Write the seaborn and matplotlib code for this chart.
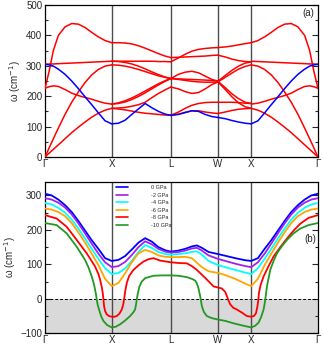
import matplotlib
matplotlib.use("Agg")
import matplotlib.pyplot as plt
import pandas as pd
import seaborn as sns
from matplotlib.ticker import MultipleLocator

sns.set_style("white")
plt.rcParams["font.family"] = ["Liberation Sans", "DejaVu Sans"]

# high symmetry points along the path
sym_labels = ["Γ", "X", "L", "W", "X", "Γ"]
sym_pos = [0.0, 1.0, 1.885, 2.59, 3.09, 4.09]

# ---- panel (a): dispersion at 0 GPa, one block per path segment ----
gx_k = [0, 0.06, 0.125, 0.2, 0.3, 0.4, 0.5, 0.6, 0.7, 0.8, 0.9, 1.0]
gx_red = [
    [226, 280, 350, 400, 428, 439, 437, 426, 410, 395, 383, 376],
    [305, 306, 306, 307, 308, 309, 310, 311, 312, 313, 314, 315],
    [226, 231, 234, 232, 222, 210, 202, 196, 190, 183, 177, 174],
    [0, 29, 60, 95, 140, 180, 214, 245, 270, 288, 299, 303],
    [0, 12, 25, 40, 60, 80, 98, 115, 131, 144, 154, 160],
]
gx_blue = [305, 303, 299, 289, 272, 250, 225, 198, 172, 145, 119, 109]

xl_k = [1.0, 1.1, 1.2, 1.3, 1.4, 1.5, 1.6, 1.7, 1.8, 1.885]
xl_red = [
    [376, 376, 375, 372, 366, 358, 349, 340, 332, 327],
    [315, 315, 315, 315, 315, 315, 315, 314, 314, 313],
    [315, 314, 311, 306, 299, 290, 280, 271, 263, 258],
    [303, 302, 299, 294, 288, 281, 274, 267, 262, 258],
    [174, 176, 181, 189, 199, 211, 224, 237, 249, 258],
    [174, 178, 185, 194, 205, 217, 229, 241, 251, 258],
    [160, 161, 163, 167, 172, 180, 195, 209, 221, 230],
    [160, 158, 155, 151, 147, 144, 142, 140, 138, 137],
]
xl_blue = [109, 111, 121, 140, 158, 176, 162, 150, 141, 137]

lw_k = [1.885, 2.0, 2.1, 2.2, 2.3, 2.4, 2.5, 2.59]
lw_red = [
    [313, 326, 338, 348, 354, 357, 359, 360],
    [327, 328, 329, 330, 331, 332, 334, 335],
    [258, 272, 279, 282, 277, 266, 255, 249],
    [258, 257, 256, 255, 254, 253, 252, 251],
    [258, 255, 252, 249, 247, 246, 246, 247],
    [230, 224, 215, 209, 212, 224, 238, 247],
    [137, 148, 160, 170, 176, 179, 180, 180],
    [137, 141, 147, 152, 152, 148, 145, 143],
]
lw_blue = [137, 140, 146, 152, 150, 140, 133, 130]

wx_k = [2.59, 2.7, 2.8, 2.9, 3.0, 3.09]
wx_red = [
    [360, 362, 365, 369, 373, 376],
    [335, 329, 322, 317, 314, 313],
    [249, 268, 285, 299, 309, 313],
    [247, 262, 276, 289, 298, 303],
    [249, 228, 208, 192, 180, 176],
    [247, 222, 198, 178, 165, 160],
    [180, 180, 180, 179, 177, 176],
    [143, 148, 153, 157, 159, 160],
]
wx_blue = [130, 126, 120, 115, 111, 109]

xg_k = [3.09, 3.19, 3.29, 3.39, 3.49, 3.59, 3.69, 3.79, 3.89, 3.965, 4.03, 4.09]
xg_red = [
    [376, 383, 395, 410, 426, 437, 439, 428, 400, 350, 280, 226],
    [315, 314, 313, 312, 311, 310, 309, 308, 307, 306, 306, 305],
    [174, 177, 183, 190, 196, 202, 210, 222, 232, 234, 231, 226],
    [303, 299, 288, 270, 245, 214, 180, 140, 95, 60, 29, 0],
    [160, 154, 144, 131, 115, 98, 80, 60, 40, 25, 12, 0],
]
xg_blue = [109, 119, 145, 172, 198, 225, 250, 272, 289, 299, 303, 305]

# ---- panel (b): lowest mode under pressure ----
pressures = ["0 GPa", "-2 GPa", "-4 GPa", "-6 GPa", "-8 GPa", "-10 GPa"]
p_colors = ["#0000ff", "#a020f0", "#00ffff", "#ffa500", "#ff0000", "#229922"]

b_k = [0, 0.1, 0.2, 0.3, 0.4, 0.5, 0.6, 0.7, 0.8, 0.9, 1.0,
       1.1, 1.2, 1.3, 1.4, 1.5, 1.6, 1.7, 1.8, 1.885,
       2.0, 2.1, 2.2, 2.275, 2.35, 2.45, 2.59,
       2.7, 2.85, 3.0, 3.09,
       3.19, 3.29, 3.39, 3.49, 3.59, 3.69, 3.79, 3.89, 3.99, 4.09]
p0_w = [305, 300, 288, 272, 252, 226, 198, 170, 145, 118, 110,
        113, 124, 143, 163, 176, 166, 150, 141, 137,
        140, 145, 152, 155, 148, 136, 130,
        125, 118, 112, 110,
        118, 145, 170, 198, 226, 252, 272, 288, 300, 305]
p2_w = [292, 288, 279, 265, 245, 219, 190, 160, 131, 106, 92,
        95, 107, 127, 150, 167, 158, 145, 137, 134,
        136, 140, 146, 148, 140, 126, 116,
        110, 102, 95, 92,
        106, 131, 160, 190, 219, 245, 265, 279, 288, 292]
p4_w = [278, 274, 264, 250, 230, 204, 175, 145, 116, 89, 72,
        75, 88, 110, 136, 156, 148, 136, 130, 128,
        130, 132, 136, 138, 128, 110, 98,
        92, 84, 76, 72,
        89, 116, 145, 175, 204, 230, 250, 264, 274, 278]
p6_w = [262, 259, 252, 240, 220, 193, 163, 131, 98, 58, 37,
        46, 74, 106, 132, 142, 136, 126, 122, 121,
        121, 122, 118, 105, 92, 80, 75,
        69, 58, 44, 37,
        58, 98, 131, 163, 193, 220, 240, 252, 259, 262]

p8_k = [0, 0.175, 0.325, 0.475, 0.625, 0.75, 0.8, 0.825, 0.85, 0.865, 0.875,
        0.885, 0.9, 0.925, 0.96, 1.0, 1.04, 1.075, 1.115, 1.15, 1.17, 1.185,
        1.2, 1.225, 1.26, 1.325, 1.4, 1.475, 1.55, 1.625, 1.725, 1.885,
        2.0, 2.125, 2.2, 2.275, 2.35, 2.425, 2.525, 2.59, 2.65, 2.7, 2.725,
        2.75, 2.775, 2.82, 2.875, 2.95, 3.025, 3.09, 3.13, 3.16, 3.18, 3.195,
        3.205, 3.23, 3.275, 3.35, 3.425, 3.525, 3.625, 3.725, 3.825, 3.95, 4.09]
p8_w = [243, 233, 209, 171, 132, 94, 72, 56, 35, 17, 0,
        -21, -35, -45, -50, -52, -52, -50, -43, -31, -18, -2,
        20, 46, 66, 84, 97, 108, 115, 118, 111, 106,
        104, 103, 95, 84, 70, 56, 36, 33, 30, 20, 8,
        -5, -16, -26, -31, -40, -50, -52, -50, -42, -25, -5,
        17, 40, 65, 95, 123, 150, 175, 198, 218, 235, 243]

p10_k = [0, 0.175, 0.325, 0.475, 0.6, 0.65, 0.7, 0.73, 0.75, 0.765, 0.775,
         0.79, 0.81, 0.84, 0.875, 0.93, 1.0, 1.06, 1.125, 1.2, 1.275, 1.32,
         1.35, 1.365, 1.375, 1.39, 1.415, 1.45, 1.5, 1.625, 1.75, 1.885,
         2.0, 2.125, 2.2, 2.25, 2.275, 2.3, 2.325, 2.35, 2.38, 2.425, 2.5,
         2.59, 2.7, 2.825, 2.95, 3.09, 3.15, 3.2, 3.24, 3.275, 3.29, 3.3,
         3.315, 3.325, 3.35, 3.375, 3.425, 3.475, 3.55, 3.625, 3.725, 3.825,
         3.95, 4.09]
p10_w = [220, 214, 190, 151, 113, 92, 65, 45, 27, 12, -2,
         -18, -31, -50, -64, -76, -83, -81, -74, -63, -50, -40,
         -31, -15, -2, 15, 36, 50, 60, 67, 68, 68,
         67, 63, 58, 53, 45, 30, 8, -21, -38, -50, -56,
         -60, -64, -71, -77, -83, -78, -69, -52, -31, -15, -2,
         20, 36, 60, 84, 110, 132, 153, 171, 190, 204,
         214, 220]

fig = plt.figure(figsize=(3.23, 3.47), dpi=100)
ax1 = fig.add_axes([0.1393, 0.5476, 0.8452, 0.438])
ax2 = fig.add_axes([0.1393, 0.0395, 0.8452, 0.437])

segments = [(gx_k, gx_red, gx_blue), (xl_k, xl_red, xl_blue), (lw_k, lw_red, lw_blue),
            (wx_k, wx_red, wx_blue), (xg_k, xg_red, xg_blue)]
for k, reds, blue in segments:
    for w in reds:
        sns.lineplot(x=k, y=w, ax=ax1, color="#ff0000", lw=1.1, sort=False,
                     estimator=None, zorder=3)
    sns.lineplot(x=k, y=blue, ax=ax1, color="#0000ff", lw=1.1, sort=False,
                 estimator=None, zorder=4)

ax1.set_ylim(0, 500)
ax1.yaxis.set_major_locator(MultipleLocator(100))
ax1.yaxis.set_minor_locator(MultipleLocator(50))
ax1.text(4.04, 473, "(a)", ha="right", va="center", fontsize=7)

# panel (b)
curves = [(b_k, p0_w), (b_k, p2_w), (b_k, p4_w), (b_k, p6_w), (p8_k, p8_w), (p10_k, p10_w)]
rows = []
for name, (k, w) in zip(pressures, curves):
    rows.append(pd.DataFrame({"k": k, "w": w, "p": name}))
df_b = pd.concat(rows, ignore_index=True)

ax2.axhspan(-100, 0, color="#d9d9d9", zorder=0, lw=0)
ax2.axhline(0, color="black", lw=0.7, ls=(0, (3, 2)), zorder=2)
for name, col in zip(pressures, p_colors):
    sub = df_b[df_b["p"] == name]
    sns.lineplot(data=sub, x="k", y="w", ax=ax2, color=col, lw=1.3, sort=False,
                 estimator=None, label=name, zorder=3)

ax2.set_ylim(-100, 340)
ax2.yaxis.set_major_locator(MultipleLocator(100))
ax2.yaxis.set_minor_locator(MultipleLocator(50))
ax2.text(4.06, 175, "(b)", ha="right", va="center", fontsize=7)

leg = ax2.legend(loc="upper left", bbox_to_anchor=(0.255, 0.985), frameon=False,
                 fontsize=4, handlelength=2.3, handletextpad=0.3, labelspacing=0.45,
                 borderaxespad=0, borderpad=0.2)
for line in leg.get_lines():
    line.set_linewidth(1.2)
fig.canvas.draw()
renderer = fig.canvas.get_renderer()
shift = max(t.get_window_extent(renderer).width for t in leg.get_texts())
for t in leg.get_texts():
    t.set_ha("right")
    t.set_position((shift, 0))

for ax in (ax1, ax2):
    ax.set_xlim(sym_pos[0], sym_pos[-1])
    for p in sym_pos[1:-1]:
        ax.axvline(p, color="#4d4d4d", lw=1.0, zorder=2.5)
    ax.set_xticks(sym_pos)
    ax.set_xticklabels(sym_labels)
    ax.set_xlabel("")
    ax.set_ylabel("ω (cm$^{-1}$)", fontsize=7, labelpad=2)
    ax.tick_params(axis="x", length=0, pad=1.5, labelsize=7)
    ax.tick_params(axis="y", which="both", direction="in", left=True, right=True,
                   labelsize=7, pad=2)
    ax.tick_params(axis="y", which="major", length=4, width=0.8)
    ax.tick_params(axis="y", which="minor", length=2, width=0.8)
    for s in ax.spines.values():
        s.set_color("black")
        s.set_linewidth(0.9)

fig.savefig("out.png", dpi=100)
